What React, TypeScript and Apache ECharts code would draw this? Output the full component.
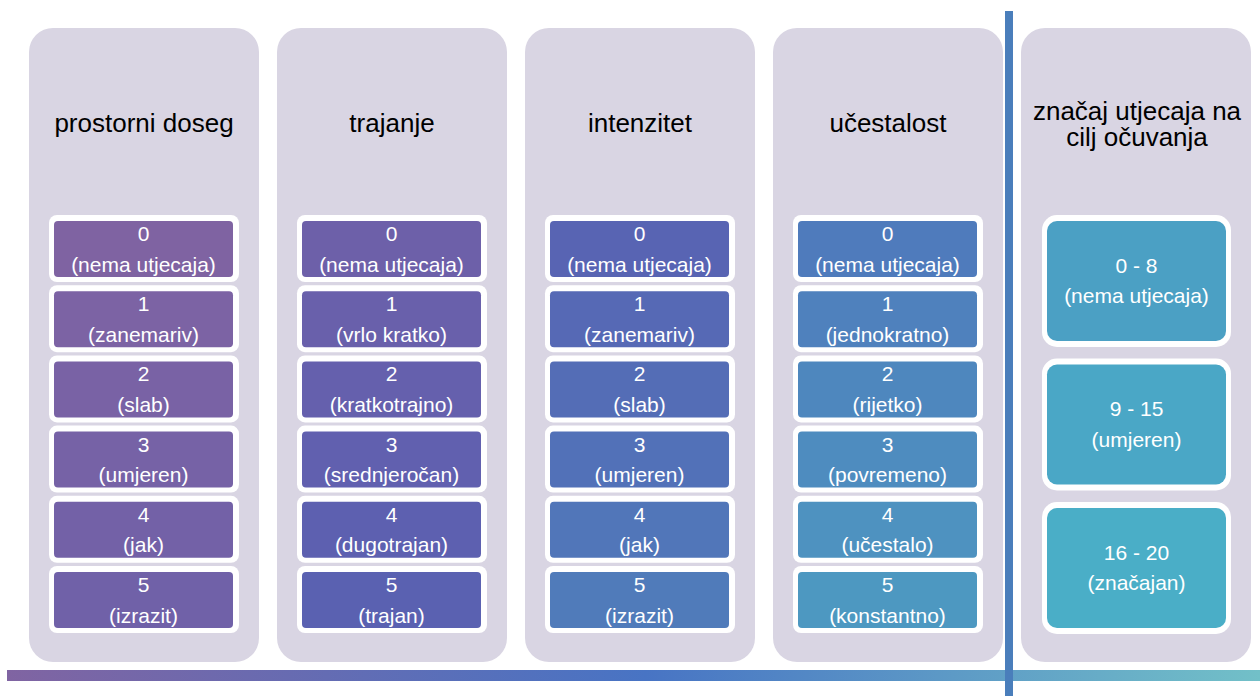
import React, { useEffect, useRef } from "react";
import * as echarts from "echarts";

const columnTitles = ["prostorni doseg", "trajanje", "intenzitet", "učestalost"];
const levelScores = ["0", "1", "2", "3", "4", "5"];
const spatialLabels = ["(nema utjecaja)", "(zanemariv)", "(slab)", "(umjeren)", "(jak)", "(izrazit)"];
const durationLabels = ["(nema utjecaja)", "(vrlo kratko)", "(kratkotrajno)", "(srednjeročan)", "(dugotrajan)", "(trajan)"];
const intensityLabels = ["(nema utjecaja)", "(zanemariv)", "(slab)", "(umjeren)", "(jak)", "(izrazit)"];
const frequencyLabels = ["(nema utjecaja)", "(jednokratno)", "(rijetko)", "(povremeno)", "(učestalo)", "(konstantno)"];
const significanceTitle = ["značaj utjecaja na", "cilj očuvanja"];
const significanceRanges = ["0 - 8", "9 - 15", "16 - 20"];
const significanceLabels = ["(nema utjecaja)", "(umjeren)", "(značajan)"];

const columnLabels = [spatialLabels, durationLabels, intensityLabels, frequencyLabels];

// style: box colours per column
const boxColors = [
  ["#7f63a2", "#7c63a4", "#7962a5", "#7662a6", "#7361a7", "#7061a8"],
  ["#6d60a9", "#6960ab", "#6560ad", "#6160af", "#5d60b0", "#5a61b1"],
  ["#5864b3", "#5669b5", "#546db6", "#5271b8", "#5176b9", "#507bba"],
  ["#4f7bbc", "#4f81bd", "#4e87be", "#4e8cbf", "#4e92c0", "#4d98c1"],
];
const sigColors = ["#4ba0c4", "#4aa7c6", "#4aaec7"];

const FONT = '"Liberation Sans", Arial, Helvetica, sans-serif';
const PANEL_BG = "#d9d5e3";

function buildGraphic() {
  const els: any[] = [];
  const panelXs = [29, 277, 525, 773, 1021];
  const panelW = 230;
  const panelTop = 28;
  const panelH = 634;

  // panels
  panelXs.forEach((px) => {
    els.push({
      type: "rect",
      shape: { x: px, y: panelTop, width: panelW, height: panelH, r: 24 },
      style: { fill: PANEL_BG },
    });
  });

  // four level columns
  columnTitles.forEach((title, ci) => {
    const px = panelXs[ci];
    const cx = px + panelW / 2;
    els.push({
      type: "text",
      style: {
        text: title, x: cx, y: 123, fill: "#000", fontSize: 26, fontFamily: FONT,
        align: "center", verticalAlign: "middle",
      },
    });
    levelScores.forEach((score, li) => {
      const fy = 221 + li * 70.2;
      els.push({
        type: "rect",
        shape: { x: px + 20, y: fy - 6, width: 190, height: 67, r: 8 },
        style: { fill: "#ffffff" },
      });
      els.push({
        type: "rect",
        shape: { x: px + 25, y: fy, width: 179, height: 56, r: 4 },
        style: { fill: boxColors[ci][li] },
      });
      const ccy = fy + 28;
      els.push({
        type: "text",
        style: {
          text: score, x: px + 25 + 89.5, y: ccy - 15.5, fill: "#fff", fontSize: 21, fontFamily: FONT,
          align: "center", verticalAlign: "middle",
        },
      });
      els.push({
        type: "text",
        style: {
          text: columnLabels[ci][li], x: px + 25 + 89.5, y: ccy + 15, fill: "#fff", fontSize: 21, fontFamily: FONT,
          align: "center", verticalAlign: "middle",
        },
      });
    });
  });

  // significance column
  const sx = panelXs[4];
  const scx = sx + panelW / 2;
  els.push({
    type: "text",
    style: {
      text: significanceTitle.join("\n"), x: scx + 1, y: 124, fill: "#000", fontSize: 26,
      lineHeight: 26, fontFamily: FONT, align: "center", verticalAlign: "middle",
    },
  });
  const sigTops = [221, 364.5, 508];
  significanceRanges.forEach((range, i) => {
    const fy = sigTops[i];
    els.push({
      type: "rect",
      shape: { x: sx + 21, y: fy - 6, width: 189, height: 132, r: 15 },
      style: { fill: "#ffffff" },
    });
    els.push({
      type: "rect",
      shape: { x: sx + 26, y: fy, width: 179, height: 120, r: 10 },
      style: { fill: sigColors[i] },
    });
    const ccy = fy + 60;
    els.push({
      type: "text",
      style: {
        text: range, x: sx + 26 + 89.5, y: ccy - 16, fill: "#fff", fontSize: 21, fontFamily: FONT,
        align: "center", verticalAlign: "middle",
      },
    });
    els.push({
      type: "text",
      style: {
        text: significanceLabels[i], x: sx + 26 + 89.5, y: ccy + 14.5, fill: "#fff", fontSize: 21, fontFamily: FONT,
        align: "center", verticalAlign: "middle",
      },
    });
  });

  // bottom gradient bar
  els.push({
    type: "rect",
    shape: { x: 7, y: 670, width: 1253, height: 11 },
    style: {
      fill: new echarts.graphic.LinearGradient(0, 0, 1, 0, [
        { offset: 0, color: "#8064a2" },
        { offset: 0.51, color: "#4874c4" },
        { offset: 1, color: "#72c0c8" },
      ]),
    },
  });

  // vertical divider
  els.push({
    type: "rect",
    shape: { x: 1005, y: 11, width: 8, height: 690 },
    style: { fill: "#4a7ebb" },
  });

  return els;
}

export default function App() {
  const ref = useRef<HTMLDivElement>(null);
  useEffect(() => {
    if (!ref.current) return;
    const chart = echarts.init(ref.current, undefined, { renderer: "svg" });
    chart.setOption({
      animation: false,
      backgroundColor: "#ffffff",
      graphic: { elements: buildGraphic() },
    });
    return () => chart.dispose();
  }, []);
  return (
    <div
      ref={ref}
      style={{ position: "fixed", left: 0, top: 0, width: 1260, height: 696, background: "#fff" }}
    />
  );
}
